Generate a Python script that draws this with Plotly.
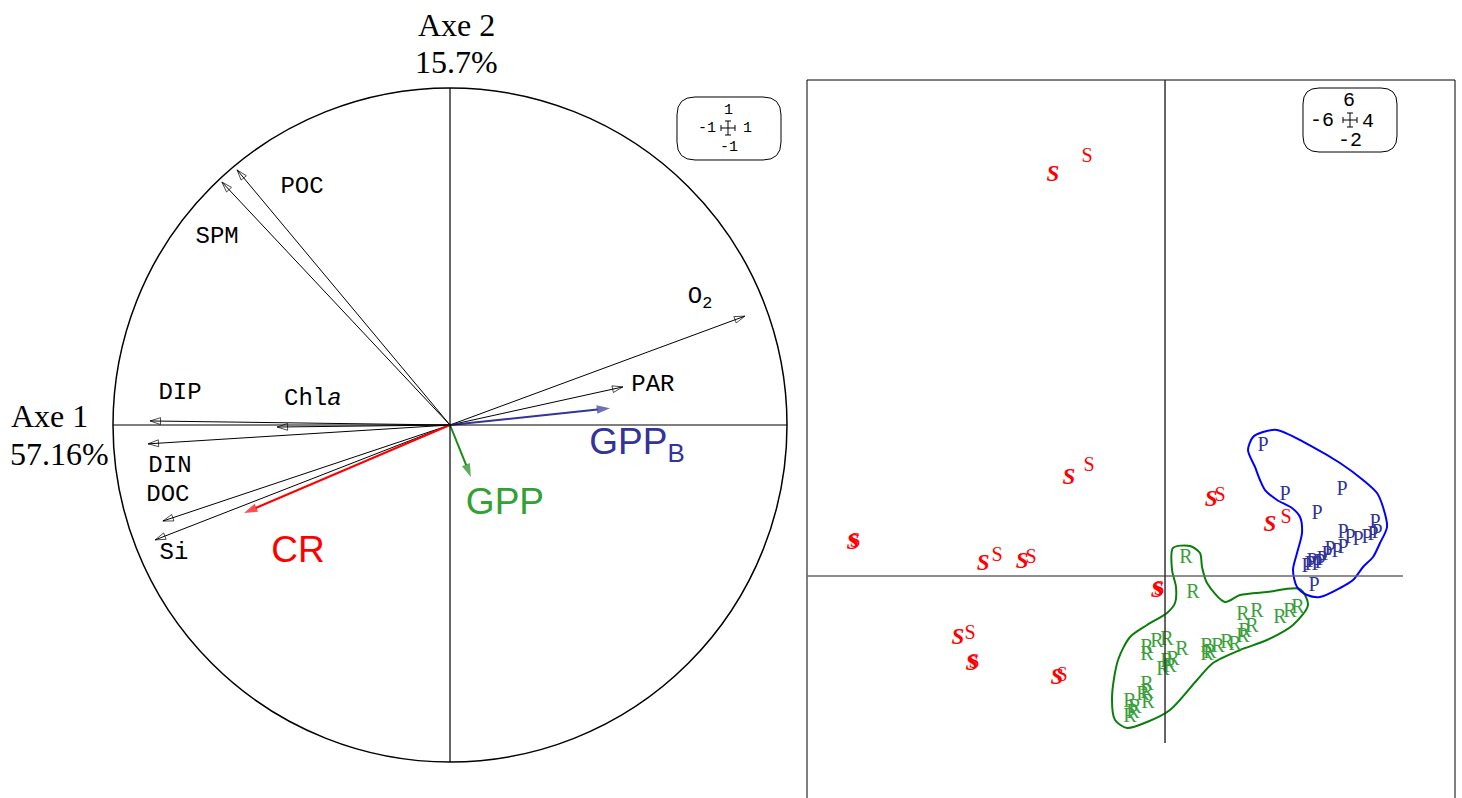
import plotly.graph_objects as go

W, H = 1462, 798

# ---- correlation circle (axe 1 / axe 2) ----
var_names = ["POC", "SPM", "O<sub>2</sub>", "PAR", "DIP", "Chl<i>a</i>", "DIN", "DOC", "Si"]
var_x = [-0.632, -0.677, 0.875, 0.513, -0.890, -0.513, -0.896, -0.852, -0.875]
var_y = [0.757, 0.721, 0.323, 0.113, 0.012, -0.006, -0.056, -0.285, -0.341]

sup_names = ["GPP<sub>B</sub>", "GPP", "CR"]
sup_x = [0.475, 0.062, -0.611]
sup_y = [0.050, -0.154, -0.261]
sup_arrow_colors = ["#333399", "#1a8a1a", "#ff0000"]
sup_text_colors = ["#333399", "#33a033", "#ff0000"]

# label placement (circle units)
var_lab_x = [-0.439, -0.691, 0.742, 0.602, -0.801, -0.407, -0.831, -0.837, -0.819]
var_lab_y = [0.706, 0.558, 0.380, 0.119, 0.095, 0.077, -0.122, -0.208, -0.380]
sup_lab_x = [0.555, 0.163, -0.451]
sup_lab_y = [-0.059, -0.237, -0.380]

# ---- sample scores ----
s_bold_x = [-1.867, -1.6, -5.2, -3.033, -2.383, -0.133, -3.45, -3.217, -1.8, 0.767, 1.75]
s_bold_y = [6.683, 1.633, 0.55, 0.2, 0.233, -0.25, -1.033, -1.467, -1.7, 1.267, 0.85]
s_x = [-1.3, -1.267, -5.167, -2.8, -2.233, -0.1, -3.25, -3.183, -1.717, 0.917, 2.017]
s_y = [6.983, 1.833, 0.567, 0.333, 0.3, -0.233, -0.967, -1.45, -1.667, 1.333, 0.967]

r_x = [0.35, 0.467, 1.3, 1.533, 1.917, 2.083, 2.217, 1.333, 1.45, 1.3, 0.7, 0.75, 0.883,
       1.033, 1.167, 0.7, -0.3, -0.3, -0.133, 0.033, 0.283, 0.033, 0.083, -0.033, 0.133,
       -0.3, -0.3, -0.367, -0.283, -0.583, -0.5, -0.583, -0.533]
r_y = [0.3, -0.283, -0.65, -0.6, -0.7, -0.6, -0.533, -0.933, -0.85, -1.017, -1.183, -1.283,
       -1.183, -1.117, -1.15, -1.317, -1.2, -1.317, -1.1, -1.067, -1.233, -1.433, -1.517,
       -1.567, -1.4, -1.817, -1.95, -1.983, -2.117, -2.1, -2.2, -2.35, -2.283]

p_x = [1.633, 2.0, 2.95, 2.533, 3.5, 2.967, 3.083, 3.217, 3.367, 3.533, 3.467, 2.75, 2.867,
       2.967, 2.45, 2.533, 2.367, 2.617, 2.7, 2.483, 2.417, 2.583]
p_y = [2.167, 1.35, 1.433, 1.033, 0.883, 0.717, 0.633, 0.6, 0.633, 0.717, 0.683, 0.433, 0.4,
       0.467, 0.233, 0.183, 0.15, 0.267, 0.35, -0.167, 0.183, 0.217]

p_hull_x = [1.633, 1.867, 2.467, 2.917, 3.3, 3.533, 3.633, 3.7, 3.583, 3.467, 3.3, 3.133,
            2.917, 2.583, 2.367, 2.2, 2.133, 2.2, 2.283, 2.25, 2.117, 1.867, 1.667, 1.583,
            1.5, 1.383, 1.467, 1.633]
p_hull_y = [2.4, 2.433, 2.15, 1.883, 1.6, 1.383, 1.15, 0.817, 0.55, 0.317, 0.15, -0.067,
            -0.2, -0.35, -0.317, -0.183, 0.1, 0.383, 0.717, 0.983, 1.133, 1.267, 1.433, 1.6,
            1.817, 2.1, 2.317, 2.4]

r_hull_x = [0.133, 0.417, 0.583, 0.617, 0.7, 1.0, 1.25, 1.7, 2.25, 2.383, 2.133, 1.7, 1.25,
            0.8, 0.533, 0.083, -0.3, -0.633, -0.833, -0.883, -0.783, -0.583, -0.3, 0.033,
            0.167, 0.183, 0.117, 0.133]
r_hull_y = [0.467, 0.5, 0.383, 0.15, -0.117, -0.433, -0.317, -0.267, -0.217, -0.483, -0.817,
            -1.067, -1.233, -1.45, -1.733, -2.233, -2.433, -2.533, -2.4, -2.017, -1.4, -1.017,
            -0.817, -0.617, -0.45, -0.183, 0.1, 0.467]


def px(x):
    return x / W


def py(y):
    return 1 - y / H


fig = go.Figure()

# black variable arrows (open heads)
for x, y in zip(var_x, var_y):
    fig.add_trace(go.Scatter(
        x=[0, x], y=[0, y], mode="lines+markers", xaxis="x", yaxis="y",
        line=dict(color="black", width=1),
        marker=dict(symbol="arrow-open", size=[0, 11], angleref="previous",
                    color="black", line=dict(color="black", width=1)),
        hoverinfo="skip", showlegend=False))

# supplementary arrows (filled heads)
for x, y, c in zip(sup_x, sup_y, sup_arrow_colors):
    fig.add_trace(go.Scatter(
        x=[0, x], y=[0, y], mode="lines+markers", xaxis="x", yaxis="y",
        line=dict(color=c, width=2),
        marker=dict(symbol="arrow", size=[0, 14], angleref="previous", color=c,
                    line=dict(width=0)),
        hoverinfo="skip", showlegend=False))

fig.add_trace(go.Scatter(
    x=var_lab_x, y=var_lab_y, text=var_names, mode="text", xaxis="x", yaxis="y",
    textfont=dict(family="Liberation Mono", size=24, color="black"),
    hoverinfo="skip", showlegend=False))
fig.add_trace(go.Scatter(
    x=sup_lab_x, y=sup_lab_y, text=sup_names, mode="text", xaxis="x", yaxis="y",
    textfont=dict(family="Liberation Sans", size=37, color=sup_text_colors),
    hoverinfo="skip", showlegend=False))

# group outlines
fig.add_trace(go.Scatter(x=r_hull_x, y=r_hull_y, mode="lines", xaxis="x2", yaxis="y2",
                         line=dict(color="#0a7d0a", width=2, shape="spline", smoothing=0.8),
                         hoverinfo="skip", showlegend=False))
fig.add_trace(go.Scatter(x=p_hull_x, y=p_hull_y, mode="lines", xaxis="x2", yaxis="y2",
                         line=dict(color="#0000ff", width=2, shape="spline", smoothing=0.8),
                         hoverinfo="skip", showlegend=False))

# sample labels
fig.add_trace(go.Scatter(x=r_x, y=r_y, text=["R"] * len(r_x), mode="text", xaxis="x2", yaxis="y2",
                         textfont=dict(family="Liberation Serif", size=20, color="#3a9f3a"),
                         hoverinfo="skip", showlegend=False))
fig.add_trace(go.Scatter(x=p_x, y=p_y, text=["P"] * len(p_x), mode="text", xaxis="x2", yaxis="y2",
                         textfont=dict(family="Liberation Serif", size=20, color="#333399"),
                         hoverinfo="skip", showlegend=False))
fig.add_trace(go.Scatter(x=s_x, y=s_y, text=["S"] * len(s_x), mode="text", xaxis="x2", yaxis="y2",
                         textfont=dict(family="Liberation Serif", size=20, color="#ff0000"),
                         hoverinfo="skip", showlegend=False))
fig.add_trace(go.Scatter(x=s_bold_x, y=s_bold_y, text=["S"] * len(s_bold_x), mode="text",
                         xaxis="x2", yaxis="y2",
                         textfont=dict(family="Liberation Serif", size=23, color="#ff0000",
                                       weight="bold", style="italic"),
                         hoverinfo="skip", showlegend=False))

shapes = [
    dict(type="circle", xref="x", yref="y", x0=-1, y0=-1, x1=1, y1=1,
         line=dict(color="black", width=1.5)),
    dict(type="line", xref="x", yref="y", x0=-1, y0=0, x1=1, y1=0,
         line=dict(color="black", width=1.2)),
    dict(type="line", xref="x", yref="y", x0=0, y0=-1, x1=0, y1=1,
         line=dict(color="black", width=1.2)),
    # right panel frame
    dict(type="line", xref="paper", yref="paper", x0=px(807), y0=py(80), x1=px(807), y1=0,
         line=dict(color="black", width=1)),
    dict(type="line", xref="paper", yref="paper", x0=px(807), y0=py(80), x1=px(1455), y1=py(80),
         line=dict(color="black", width=1)),
    dict(type="line", xref="paper", yref="paper", x0=px(1455), y0=py(80), x1=px(1455), y1=0,
         line=dict(color="black", width=1)),
    # right panel axes
    dict(type="line", xref="x2", yref="y2", x0=-5.967, y0=0, x1=3.967, y1=0,
         line=dict(color="#6a6a6a", width=1.5)),
    dict(type="line", xref="x2", yref="y2", x0=0, y0=8.267, x1=0, y1=-2.783,
         line=dict(color="#333333", width=1.5)),
]


def rounded_box(x0, y0, x1, y1, r):
    X = lambda v: f"{px(v):.5f}"
    Y = lambda v: f"{py(v):.5f}"
    return (f"M{X(x0 + r)},{Y(y0)} L{X(x1 - r)},{Y(y0)} Q{X(x1)},{Y(y0)} {X(x1)},{Y(y0 + r)} "
            f"L{X(x1)},{Y(y1 - r)} Q{X(x1)},{Y(y1)} {X(x1 - r)},{Y(y1)} "
            f"L{X(x0 + r)},{Y(y1)} Q{X(x0)},{Y(y1)} {X(x0)},{Y(y1 - r)} "
            f"L{X(x0)},{Y(y0 + r)} Q{X(x0)},{Y(y0)} {X(x0 + r)},{Y(y0)} Z")


def cross(cx, cy, a, t):
    X = lambda v: f"{px(v):.5f}"
    Y = lambda v: f"{py(v):.5f}"
    return (f"M{X(cx - a)},{Y(cy)} L{X(cx + a)},{Y(cy)} M{X(cx)},{Y(cy - a)} L{X(cx)},{Y(cy + a)} "
            f"M{X(cx - a)},{Y(cy - t)} L{X(cx - a)},{Y(cy + t)} "
            f"M{X(cx + a)},{Y(cy - t)} L{X(cx + a)},{Y(cy + t)} "
            f"M{X(cx - t)},{Y(cy - a)} L{X(cx + t)},{Y(cy - a)} "
            f"M{X(cx - t)},{Y(cy + a)} L{X(cx + t)},{Y(cy + a)}")


for path in [rounded_box(677, 97, 781, 160, 18), rounded_box(1303, 88, 1397, 152, 16)]:
    shapes.append(dict(type="path", xref="paper", yref="paper", path=path,
                       line=dict(color="black", width=1)))
shapes.append(dict(type="path", xref="paper", yref="paper", path=cross(728, 128, 7, 3),
                   line=dict(color="black", width=1)))
shapes.append(dict(type="path", xref="paper", yref="paper", path=cross(1350, 120, 7, 3),
                   line=dict(color="black", width=1)))

annotations = []


def note(text, x, y, size, family, color="black"):
    annotations.append(dict(text=text, x=px(x), y=py(y), xref="paper", yref="paper",
                            showarrow=False, xanchor="center", yanchor="middle",
                            font=dict(family=family, size=size, color=color)))


note("Axe 2", 456, 25, 32, "Liberation Serif")
note("15.7%", 456, 62, 32, "Liberation Serif")
note("Axe 1", 49, 416, 32, "Liberation Serif")
note("57.16%", 59, 454, 32, "Liberation Serif")

for t, x, y in [("1", 728, 110), ("-1", 707, 128), ("1", 747, 128), ("-1", 729, 147)]:
    note(t, x, y, 15, "Liberation Mono")
for t, x, y in [("6", 1349, 101), ("-6", 1322, 121), ("4", 1368, 122), ("-2", 1350, 141)]:
    note(t, x, y, 20, "Liberation Mono")

hidden = dict(visible=False, showgrid=False, zeroline=False)
fig.update_layout(
    width=W, height=H, autosize=False,
    margin=dict(l=0, r=0, t=0, b=0),
    paper_bgcolor="white", plot_bgcolor="white",
    xaxis=dict(domain=[0, 804 / W], range=[-450 / 337, 354 / 337], **hidden),
    yaxis=dict(domain=[0, 1], range=[-373 / 337, 425 / 337], **hidden),
    xaxis2=dict(domain=[807 / W, 1455 / W], range=[-5.967, 4.833], anchor="y2", **hidden),
    yaxis2=dict(domain=[0, 718 / H], range=[-3.7, 8.267], anchor="x2", **hidden),
    shapes=shapes, annotations=annotations,
)

# the page has a default body margin; remove it so the figure sits at the window's corner
fig.write_html("out.html", config={"displayModeBar": False},
               post_script="document.body.style.margin='0';")
